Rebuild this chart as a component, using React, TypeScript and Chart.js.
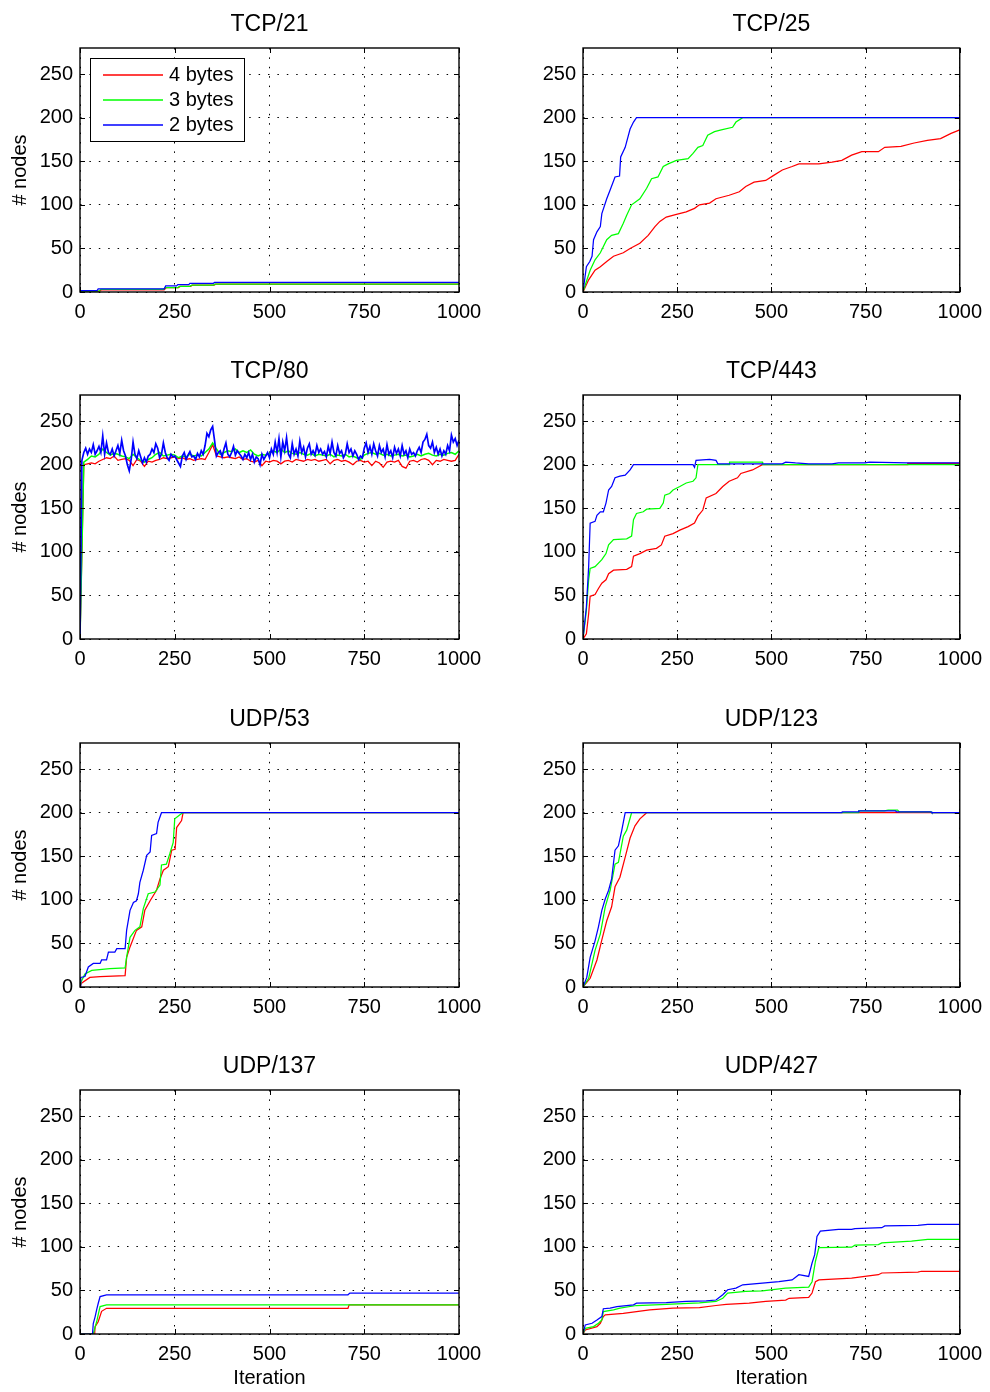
import React, { useEffect, useRef } from "react";
import { Chart, registerables } from "chart.js";

Chart.register(...registerables);

const FONT = '"Liberation Sans", Arial, Helvetica, sans-serif';
const SERIES_LABELS = ["4 bytes", "3 bytes", "2 bytes"];
const SERIES_COLORS = ["#ff0000", "#00ff00", "#0000ff"];
const X_TICKS = [0, 250, 500, 750, 1000];
const Y_TICKS = [0, 50, 100, 150, 200, 250];
const X_MAX = 1000;
const Y_MAX = 280;

type Pt = [number, number];

// ---------- TCP/21 ----------
const tcp21Red: Pt[] = [[0, 0], [6, 1], [52, 1], [57, 2.5], [222, 2.5], [228, 5], [260, 5], [265, 6.5], [292, 6.5], [297, 8], [354, 8], [358, 9], [1000, 9]];
const tcp21Green: Pt[] = [[0, 0], [5, 1], [50, 1], [55, 3], [220, 3], [225, 5], [258, 5], [262, 6.5], [290, 6.5], [295, 8], [352, 8], [356, 9], [1000, 9]];
const tcp21Blue: Pt[] = [[0, 0], [3, 1.5], [45, 1.5], [48, 3.5], [222, 3.5], [226, 7], [255, 7], [258, 8.5], [287, 8.5], [290, 10], [352, 10], [355, 11], [1000, 11]];

// ---------- TCP/25 ----------
const tcp25Red: Pt[] = [[0, 0], [15, 14], [32, 25], [46, 29], [63, 35], [81, 41], [107, 45], [125, 50], [151, 56], [173, 65], [191, 75], [204, 81], [221, 86], [248, 89], [274, 92], [296, 96], [309, 100], [336, 102], [353, 107], [388, 111], [415, 115], [432, 121], [454, 126], [485, 128], [503, 133], [529, 140], [555, 144], [573, 147], [626, 147], [661, 149], [687, 151], [713, 157], [740, 161], [784, 161], [801, 166], [844, 167], [879, 171], [914, 174], [949, 176], [977, 182], [1000, 186]];
const tcp25Green: Pt[] = [[0, 0], [9, 12], [19, 25], [32, 37], [46, 45], [63, 60], [76, 65], [94, 67], [107, 79], [116, 88], [129, 100], [151, 107], [169, 119], [182, 130], [199, 132], [213, 144], [226, 147], [248, 151], [279, 153], [292, 159], [305, 166], [318, 168], [331, 180], [349, 184], [367, 186], [397, 189], [406, 195], [424, 200], [1000, 200]];
const tcp25Blue: Pt[] = [[0, 0], [9, 29], [18, 35], [24, 41], [28, 60], [37, 69], [46, 75], [50, 90], [63, 107], [72, 117], [85, 132], [97, 133], [100, 155], [112, 166], [125, 187], [134, 195], [142, 200], [1000, 200]];

// ---------- TCP/80 (sampled every 10 / 5 iterations) ----------
const tcp80RedStep = 10;
const tcp80Red: number[] = [0, 200, 201, 202, 201, 204, 206, 208, 207, 210, 205, 206, 207, 205, 199, 206, 204, 198, 204, 203, 205, 206, 208, 207, 208, 209, 207, 208, 206, 207, 205, 206, 207, 206, 214, 223, 210, 209, 208, 209, 208, 207, 209, 206, 207, 204, 203, 205, 199, 204, 203, 205, 204, 201, 204, 205, 203, 206, 205, 204, 206, 205, 206, 204, 205, 206, 201, 205, 206, 204, 205, 203, 200, 204, 205, 203, 204, 199, 204, 202, 197, 203, 204, 203, 205, 198, 196, 204, 205, 203, 206, 207, 205, 200, 205, 204, 206, 205, 204, 205, 212];
const tcp80GreenStep = 10;
const tcp80Green: number[] = [0, 203, 206, 210, 209, 212, 218, 214, 211, 213, 212, 210, 209, 207, 212, 208, 205, 203, 206, 208, 212, 214, 210, 211, 212, 211, 208, 210, 209, 212, 210, 211, 210, 214, 218, 225, 218, 212, 214, 216, 215, 218, 214, 216, 214, 217, 212, 210, 212, 211, 213, 216, 214, 218, 214, 216, 213, 212, 214, 212, 211, 213, 210, 212, 211, 210, 212, 209, 211, 210, 212, 209, 210, 208, 206, 211, 213, 214, 212, 213, 211, 212, 210, 211, 212, 210, 211, 209, 210, 212, 210, 212, 213, 211, 210, 212, 211, 213, 214, 212, 216];
const tcp80BlueStep = 5;
const tcp80Blue: number[] = [0, 205, 214, 219, 212, 218, 214, 223, 212, 216, 221, 214, 233, 212, 225, 214, 212, 218, 210, 216, 222, 213, 228, 216, 210, 200, 193, 206, 226, 212, 207, 216, 209, 202, 208, 203, 210, 212, 218, 214, 224, 219, 208, 212, 225, 214, 208, 205, 212, 209, 210, 206, 202, 198, 210, 214, 206, 211, 215, 209, 210, 206, 213, 209, 216, 212, 222, 236, 232, 240, 244, 228, 210, 214, 216, 209, 218, 225, 212, 209, 214, 221, 211, 216, 213, 210, 206, 212, 208, 214, 206, 212, 203, 209, 207, 200, 212, 206, 210, 214, 208, 218, 212, 226, 214, 230, 209, 226, 216, 231, 212, 208, 224, 212, 218, 210, 227, 214, 220, 209, 219, 224, 212, 216, 211, 222, 214, 218, 212, 215, 209, 221, 213, 226, 214, 210, 222, 213, 216, 208, 212, 224, 214, 218, 210, 216, 212, 206, 210, 208, 219, 225, 214, 221, 212, 224, 216, 210, 222, 214, 218, 209, 223, 212, 216, 208, 220, 213, 218, 210, 222, 212, 216, 208, 218, 212, 214, 210, 216, 220, 214, 226, 229, 235, 222, 219, 226, 214, 220, 212, 218, 210, 216, 212, 222, 216, 234, 226, 230, 222, 228];

// ---------- TCP/443 ----------
const tcp443Red: Pt[] = [[0, 0], [9, 6], [15, 29], [19, 49], [32, 51], [41, 58], [50, 64], [61, 68], [68, 75], [81, 79], [116, 80], [129, 83], [134, 95], [151, 98], [169, 102], [195, 104], [208, 108], [217, 118], [239, 121], [257, 125], [279, 129], [296, 133], [305, 141], [318, 148], [327, 162], [353, 167], [371, 175], [388, 181], [410, 185], [419, 190], [450, 194], [476, 200], [860, 200], [862, 201.5], [1000, 201.5]];
const tcp443Green: Pt[] = [[0, 0], [9, 33], [15, 68], [19, 81], [32, 83], [50, 91], [61, 98], [68, 108], [81, 114], [116, 115], [129, 118], [134, 137], [142, 144], [160, 146], [169, 149], [204, 150], [213, 156], [217, 165], [230, 167], [239, 171], [257, 175], [274, 179], [292, 181], [300, 185], [305, 200], [388, 200], [389, 203], [476, 203], [477, 200], [1000, 200]];
const tcp443Blue: Pt[] = [[0, 0], [9, 37], [15, 83], [19, 133], [32, 135], [37, 142], [46, 146], [54, 146], [61, 156], [68, 171], [76, 175], [85, 185], [98, 187], [112, 188], [125, 194], [134, 200], [292, 200], [296, 197], [300, 205], [336, 206], [353, 205], [358, 201], [529, 201], [538, 203], [564, 202], [599, 201], [661, 201], [678, 202], [749, 202], [760, 203], [860, 202], [1000, 202]];

// ---------- UDP/53 ----------
const udp53Red: Pt[] = [[0, 0], [3, 4], [26, 11], [53, 12], [119, 13], [123, 34], [132, 46], [149, 65], [163, 69], [171, 88], [185, 99], [202, 111], [211, 124], [220, 134], [233, 138], [242, 157], [251, 158], [255, 183], [268, 191], [272, 200], [1000, 200]];
const udp53Green: Pt[] = [[0, 0], [3, 6], [13, 15], [31, 19], [79, 21], [119, 22], [123, 34], [132, 57], [145, 65], [158, 69], [167, 90], [180, 107], [198, 109], [211, 117], [215, 140], [228, 141], [237, 153], [246, 166], [250, 193], [268, 199], [272, 200], [1000, 200]];
const udp53Blue: Pt[] = [[0, 0], [2, 11], [13, 12], [22, 23], [35, 27], [53, 27], [57, 31], [70, 31], [75, 40], [92, 40], [97, 44], [119, 44], [123, 65], [132, 88], [141, 97], [149, 99], [154, 107], [158, 120], [167, 134], [176, 151], [185, 155], [189, 174], [202, 176], [206, 189], [215, 200], [246, 200], [1000, 200]];

// ---------- UDP/123 ----------
const udp123Red: Pt[] = [[0, 0], [19, 10], [37, 31], [50, 54], [63, 76], [76, 92], [85, 115], [98, 126], [112, 149], [125, 171], [138, 185], [151, 193], [169, 200], [1000, 200]];
const udp123Green: Pt[] = [[0, 0], [15, 10], [32, 42], [46, 61], [59, 92], [72, 111], [85, 141], [94, 143], [107, 173], [116, 180], [129, 200], [730, 200], [732, 202], [800, 202], [810, 203], [835, 203], [840, 201], [924, 201], [926, 200], [1000, 200]];
const udp123Blue: Pt[] = [[0, 0], [10, 11], [19, 34], [32, 53], [41, 69], [50, 88], [59, 101], [68, 111], [76, 124], [85, 157], [94, 162], [103, 180], [112, 200], [687, 200], [688, 201], [730, 201], [732, 202], [830, 202], [832, 201], [924, 201], [926, 200], [1000, 200]];

// ---------- UDP/137 ----------
const udp137Red: Pt[] = [[0, 0], [38, 0], [39, 3], [40, 8.5], [48, 14], [57, 26], [70, 29.5], [707, 29.5], [710, 33.5], [1000, 33.5]];
const udp137Green: Pt[] = [[0, 0], [35, 0], [40, 8.5], [44, 14], [48, 22], [53, 31.5], [70, 33.5], [1000, 33.5]];
const udp137Blue: Pt[] = [[0, 0], [33, 0], [35, 12], [40, 20], [44, 28], [48, 35], [53, 43], [70, 45], [707, 45], [712, 47], [1000, 47]];

// ---------- UDP/427 ----------
const udp427Red: Pt[] = [[0, 0], [6, 4.6], [37, 8.5], [46, 12.3], [54, 20], [59, 22], [107, 23.8], [142, 25.8], [177, 27.7], [239, 29.6], [309, 30.4], [353, 32.7], [380, 34], [441, 35.4], [485, 37.3], [538, 39], [547, 41], [599, 42], [608, 47], [617, 60], [626, 62], [713, 64], [748, 66], [784, 68], [793, 70], [889, 71], [898, 72], [1000, 72]];
const udp427Green: Pt[] = [[0, 0], [6, 6.5], [28, 8.5], [41, 12.3], [50, 16], [54, 25.8], [81, 27.7], [98, 29.6], [142, 32.7], [221, 34], [309, 35.8], [353, 37.3], [371, 41], [384, 47], [432, 48.8], [476, 49.6], [538, 52.7], [599, 53.8], [608, 60], [617, 83.5], [626, 99], [713, 99.6], [722, 102], [784, 102.7], [793, 104.6], [872, 106.5], [915, 108.5], [1000, 108.5]];
const udp427Blue: Pt[] = [[0, 0], [6, 10.4], [24, 12.3], [37, 16], [50, 20], [54, 29], [72, 29.6], [90, 31.5], [134, 33.5], [142, 35.4], [221, 36], [274, 37.3], [327, 38], [353, 39], [371, 45], [384, 50.8], [406, 52.7], [424, 56.5], [476, 58.5], [520, 60], [555, 62], [573, 68], [599, 66], [608, 81.5], [615, 91], [621, 112], [630, 118], [678, 120], [713, 120], [722, 121], [793, 122], [801, 124], [889, 124.6], [915, 125.8], [1000, 125.8]];

const fromPairs = (a: Pt[]) => a.map(([x, y]) => ({ x, y }));
const fromSteps = (a: number[], step: number) => a.map((y, i) => ({ x: i * step, y }));

type PanelCfg = { title: string; series: { x: number; y: number }[][]; legend?: boolean; widths?: number[] };

const PANELS: PanelCfg[] = [
  { title: "TCP/21", series: [fromPairs(tcp21Red), fromPairs(tcp21Green), fromPairs(tcp21Blue)], legend: true },
  { title: "TCP/25", series: [fromPairs(tcp25Red), fromPairs(tcp25Green), fromPairs(tcp25Blue)] },
  { title: "TCP/80", series: [fromSteps(tcp80Red, tcp80RedStep), fromSteps(tcp80Green, tcp80GreenStep), fromSteps(tcp80Blue, tcp80BlueStep)], widths: [1.3, 1.5, 1.7] },
  { title: "TCP/443", series: [fromPairs(tcp443Red), fromPairs(tcp443Green), fromPairs(tcp443Blue)] },
  { title: "UDP/53", series: [fromPairs(udp53Red), fromPairs(udp53Green), fromPairs(udp53Blue)] },
  { title: "UDP/123", series: [fromPairs(udp123Red), fromPairs(udp123Green), fromPairs(udp123Blue)] },
  { title: "UDP/137", series: [fromPairs(udp137Red), fromPairs(udp137Green), fromPairs(udp137Blue)] },
  { title: "UDP/427", series: [fromPairs(udp427Red), fromPairs(udp427Green), fromPairs(udp427Blue)] },
];

const CANVAS_W = 495;
const ROW_TOPS = [0, 347, 695, 1042];
const ROW_H = [347, 347, 347, 350];
const PLOT_TOP = 48;
const PLOT_H = 244;
const PLOT_LEFT = [80, 88];
const PLOT_RIGHT_PAD = [36, 28];

const framePlugin = {
  id: "frameBox",
  afterDatasetsDraw(chart: any) {
    const { ctx, chartArea: a, scales } = chart;
    ctx.save();
    ctx.strokeStyle = "#000";
    ctx.lineWidth = 1;
    ctx.beginPath();
    const tl = 5;
    scales.x.ticks.forEach((t: any) => {
      const p = Math.round(scales.x.getPixelForValue(t.value)) + 0.5;
      ctx.moveTo(p, a.bottom);
      ctx.lineTo(p, a.bottom - tl);
      ctx.moveTo(p, a.top);
      ctx.lineTo(p, a.top + tl);
    });
    scales.y.ticks.forEach((t: any) => {
      const p = Math.round(scales.y.getPixelForValue(t.value)) + 0.5;
      ctx.moveTo(a.left, p);
      ctx.lineTo(a.left + tl, p);
      ctx.moveTo(a.right, p);
      ctx.lineTo(a.right - tl, p);
    });
    ctx.stroke();
    ctx.lineWidth = 1.4;
    ctx.strokeRect(a.left, a.top, a.right - a.left, a.bottom - a.top);
    ctx.restore();
  },
};

const boxLegendPlugin = {
  id: "boxLegend",
  afterDraw(chart: any) {
    const { ctx, chartArea: a } = chart;
    const x0 = a.left + 10.5;
    const y0 = a.top + 10.5;
    ctx.save();
    ctx.fillStyle = "#fff";
    ctx.fillRect(x0, y0, 154, 83);
    ctx.strokeStyle = "#000";
    ctx.lineWidth = 1;
    ctx.strokeRect(x0, y0, 154, 83);
    ctx.font = `20px ${FONT}`;
    ctx.textBaseline = "middle";
    ctx.textAlign = "left";
    SERIES_LABELS.forEach((label, i) => {
      const y = a.top + 27 + i * 25;
      ctx.beginPath();
      ctx.strokeStyle = SERIES_COLORS[i];
      ctx.lineWidth = 1.5;
      ctx.moveTo(a.left + 23, y);
      ctx.lineTo(a.left + 83, y);
      ctx.stroke();
      ctx.fillStyle = "#000";
      ctx.fillText(label, a.left + 89, y);
    });
    ctx.restore();
  },
};

function Panel({ cfg, idx }: { cfg: PanelCfg; idx: number }) {
  const ref = useRef<HTMLCanvasElement>(null);
  const col = idx % 2;
  const row = Math.floor(idx / 2);
  const H = ROW_H[row];

  useEffect(() => {
    if (!ref.current) return;
    const font = { family: FONT, size: 20, weight: "normal" as const };
    const xBoxH = H - PLOT_TOP - PLOT_H;
    const chart = new Chart(ref.current, {
      type: "line",
      data: {
        datasets: cfg.series.map((data, i) => ({
          label: SERIES_LABELS[i],
          data,
          borderColor: SERIES_COLORS[i],
          backgroundColor: SERIES_COLORS[i],
          borderWidth: cfg.widths ? cfg.widths[i] : 1.25,
          pointRadius: 0,
          tension: 0,
          fill: false,
          order: 3 - i,
        })),
      },
      options: {
        animation: false,
        responsive: false,
        maintainAspectRatio: false,
        devicePixelRatio: 1,
        events: [],
        layout: { padding: { left: 0, top: 0, bottom: 0, right: PLOT_RIGHT_PAD[col] } },
        plugins: {
          legend: { display: false },
          tooltip: { enabled: false },
          title: {
            display: true,
            fullSize: false,
            text: cfg.title,
            color: "#000",
            font: { family: FONT, size: 23, weight: "normal" },
            padding: { top: 10.5, bottom: 9.9 },
          },
        },
        scales: {
          x: {
            type: "linear",
            min: 0,
            max: X_MAX,
            afterBuildTicks: (s: any) => {
              s.ticks = X_TICKS.map((v) => ({ value: v }));
            },
            afterFit: (s: any) => {
              s.height = xBoxH;
            },
            ticks: {
              callback: (v: any) => String(v),
              color: "#000",
              font,
              padding: 8,
              maxRotation: 0,
              autoSkip: false,
            },
            grid: { color: "#000", lineWidth: 1, drawTicks: false },
            border: { display: false, dash: [1.5, 7.9] },
            title: {
              display: row === 3,
              text: "Iteration",
              color: "#000",
              font,
              padding: { top: 0, bottom: 2 },
            },
          },
          y: {
            type: "linear",
            min: 0,
            max: Y_MAX,
            afterBuildTicks: (s: any) => {
              s.ticks = Y_TICKS.map((v) => ({ value: v }));
            },
            afterFit: (s: any) => {
              s.width = PLOT_LEFT[col];
            },
            ticks: {
              callback: (v: any) => String(v),
              color: "#000",
              font,
              padding: 7,
              autoSkip: false,
            },
            grid: { color: "#000", lineWidth: 1, drawTicks: false },
            border: { display: false, dash: [1.5, 7.9] },
            title: {
              display: col === 0,
              text: "# nodes",
              color: "#000",
              font,
              padding: { top: 8, bottom: 0 },
            },
          },
        },
      },
      plugins: cfg.legend ? [framePlugin, boxLegendPlugin] : [framePlugin],
    } as any);
    return () => chart.destroy();
  }, []);

  return (
    <canvas
      ref={ref}
      width={CANVAS_W}
      height={H}
      style={{ position: "absolute", left: col * CANVAS_W, top: ROW_TOPS[row], width: CANVAS_W, height: H }}
    />
  );
}

export default function App() {
  return (
    <div style={{ position: "absolute", left: 0, top: 0, width: 990, height: 1392, background: "#fff" }}>
      {PANELS.map((p, i) => (
        <Panel key={p.title} cfg={p} idx={i} />
      ))}
    </div>
  );
}
